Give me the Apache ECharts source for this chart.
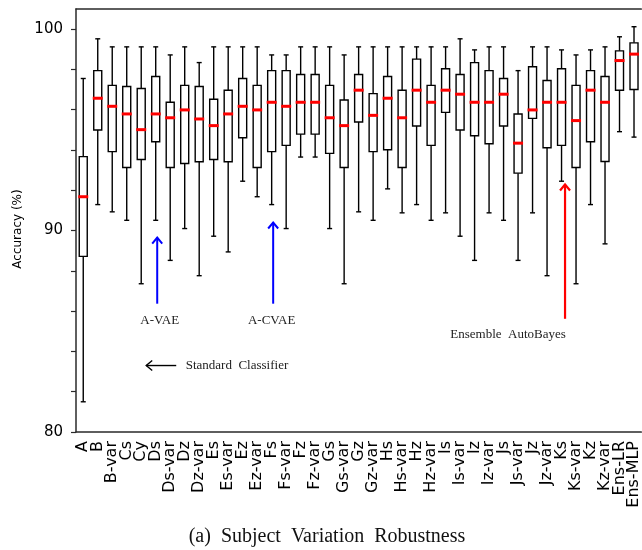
<!DOCTYPE html>
<html>
<head>
<meta charset="utf-8">
<script src="https://cdn.jsdelivr.net/npm/echarts@6/dist/echarts.min.js"></script>
<style>
  html, body { margin: 0; padding: 0; background: #fff; }
  #main { width: 642px; height: 550px; }
</style>
</head>
<body>
<div id="main"></div>
<script>
// categories along the x axis
const categories = ['A', 'B', 'B-var', 'Cs', 'Cy', 'Ds', 'Ds-var', 'Dz', 'Dz-var', 'Es', 'Es-var',
  'Ez', 'Ez-var', 'Fs', 'Fs-var', 'Fz', 'Fz-var', 'Gs', 'Gs-var', 'Gz', 'Gz-var', 'Hs', 'Hs-var',
  'Hz', 'Hz-var', 'Is', 'Is-var', 'Iz', 'Iz-var', 'Js', 'Js-var', 'Jz', 'Jz-var', 'Ks', 'Ks-var',
  'Kz', 'Kz-var', 'Ens-LR', 'Ens-MLP'];

// box statistics (accuracy %)
const whiskerMax = [97.55, 99.52, 99.12, 99.12, 99.12, 99.12, 98.72, 99.12, 98.34, 99.12, 99.12,
  99.12, 99.12, 98.72, 98.72, 99.12, 99.12, 99.12, 98.72, 99.12, 99.12, 99.12, 99.12,
  99.12, 99.12, 99.12, 99.52, 98.97, 99.12, 99.12, 97.94, 99.12, 99.12, 98.97, 98.72,
  98.97, 99.12, 99.62, 100.12];
const q3 = [93.67, 97.94, 97.21, 97.15, 97.05, 97.65, 96.37, 97.21, 97.15, 96.52, 96.97,
  97.55, 97.21, 97.94, 97.94, 97.75, 97.75, 97.21, 96.48, 97.75, 96.80, 97.65, 96.97,
  98.51, 97.21, 98.03, 97.75, 98.34, 97.94, 97.55, 95.79, 98.13, 97.45, 98.03, 97.21,
  97.94, 97.65, 98.92, 99.32];
const medians = [91.68, 96.57, 96.17, 95.79, 95.01, 95.79, 95.60, 95.99, 95.54, 95.21, 95.79,
  96.17, 95.99, 96.37, 96.17, 96.37, 96.37, 95.60, 95.21, 96.97, 95.72, 96.57, 95.60,
  96.97, 96.37, 96.97, 96.77, 96.37, 96.37, 96.77, 94.34, 95.99, 96.37, 96.37, 95.46,
  96.97, 96.37, 98.44, 98.76];
const q1 = [88.72, 94.99, 93.92, 93.13, 93.53, 94.41, 93.13, 93.33, 93.42, 93.53, 93.42,
  94.61, 93.13, 93.92, 94.23, 94.79, 94.79, 93.83, 93.13, 95.39, 93.92, 94.01, 93.13,
  95.19, 94.23, 95.87, 94.99, 94.71, 94.31, 95.19, 92.85, 95.57, 94.11, 94.23, 93.13,
  94.41, 93.43, 96.97, 97.00];
const whiskerMin = [81.50, 91.29, 90.93, 90.51, 87.36, 90.51, 88.52, 90.10, 87.76, 89.72, 88.94,
  92.45, 91.68, 91.29, 90.10, 93.65, 93.65, 90.10, 87.36, 90.93, 90.51, 92.07, 90.88,
  91.29, 90.51, 90.88, 89.72, 88.52, 90.88, 90.51, 88.52, 90.88, 87.76, 92.45, 87.36,
  91.29, 89.34, 94.91, 94.64];

// y axis ticks / labels
const yTicks = [80, 82, 84, 86, 88, 90, 92, 94, 96, 98, 100];
const yLabels = [80, 90, 100];

const chart = echarts.init(document.getElementById('main'));

const boxData = categories.map(function (c, i) {
  return [i, whiskerMax[i], q3[i], medians[i], q1[i], whiskerMin[i]];
});

function renderBox(params, api) {
  const i = api.value(0);
  const pMax = api.coord([i, api.value(1)]);
  const pQ3 = api.coord([i, api.value(2)]);
  const pMed = api.coord([i, api.value(3)]);
  const pQ1 = api.coord([i, api.value(4)]);
  const pMin = api.coord([i, api.value(5)]);
  const x = pMax[0];
  const lineStyle = { stroke: '#000', lineWidth: 1.4 };
  return {
    type: 'group',
    children: [
      { type: 'line', shape: { x1: x, y1: pMax[1], x2: x, y2: pQ3[1] }, style: lineStyle },
      { type: 'line', shape: { x1: x - 2.5, y1: pMax[1], x2: x + 2.5, y2: pMax[1] }, style: lineStyle },
      { type: 'line', shape: { x1: x, y1: pQ1[1], x2: x, y2: pMin[1] }, style: lineStyle },
      { type: 'line', shape: { x1: x - 2.5, y1: pMin[1], x2: x + 2.5, y2: pMin[1] }, style: lineStyle },
      { type: 'rect', shape: { x: x - 4, y: pQ3[1], width: 8, height: pQ1[1] - pQ3[1] },
        style: { fill: '#fff', stroke: '#000', lineWidth: 1.4 } },
      { type: 'line', shape: { x1: x - 5, y1: pMed[1], x2: x + 5, y2: pMed[1] },
        style: { stroke: '#ff0000', lineWidth: 3 } }
    ]
  };
}

const axisColor = '#2a2a2a';

chart.setOption({
  animation: false,
  grid: { left: 76, right: 0, top: 9, bottom: 118 },
  xAxis: [{
    type: 'category',
    data: categories,
    axisLine: { lineStyle: { color: axisColor, width: 1.5 } },
    axisTick: { alignWithLabel: true, length: 4, lineStyle: { color: axisColor, width: 1.2 } },
    axisLabel: {
      interval: 0, rotate: 90, margin: 9, color: '#000',
      fontFamily: 'DejaVu Sans', fontSize: 16
    }
  }, {
    type: 'category',
    data: categories,
    position: 'top',
    axisLine: { lineStyle: { color: axisColor, width: 1.5 } },
    axisTick: { show: false },
    axisLabel: { show: false }
  }],
  yAxis: {
    type: 'value',
    min: 80,
    max: 101,
    interval: 10,
    splitLine: { show: false },
    axisLine: { show: true, lineStyle: { color: axisColor, width: 1.5 } },
    axisTick: { show: true, length: 5, customValues: yTicks, lineStyle: { color: axisColor, width: 1.2 } },
    axisLabel: {
      customValues: yLabels, margin: 13, color: '#000',
      fontFamily: 'DejaVu Sans', fontSize: 15
    }
  },
  series: [{
    type: 'custom',
    renderItem: renderBox,
    encode: { x: 0, y: [1, 2, 3, 4, 5] },
    data: boxData,
    clip: false
  }]
});

// annotations anchored to the axes
function px(cat, val) {
  return chart.convertToPixel({ gridIndex: 0 }, [categories.indexOf(cat), val]);
}
const serif = 'Liberation Serif';
const aVae = px('Ds', 89.65), aVaeBase = px('Ds', 86.37), aVaeTxt = px('Ds', 85.55);
const aCvae = px('Fs', 90.4), aCvaeBase = px('Fs', 86.37), aCvaeTxt = px('Fs', 85.55);
const stdL = px('Cy', 83.3), stdTxt = px('Ds', 83.3);
const ens = px('Ks', 92.29), ensBase = px('Ks', 85.62), ensTxt = px('Js-var', 84.83);

function upArrow(tip, base, color, w) {
  const x = tip[0] + 1.5;
  return [
    { type: 'line', shape: { x1: x, y1: base[1], x2: x, y2: tip[1] }, style: { stroke: color, lineWidth: w } },
    { type: 'polyline', shape: { points: [[x - 5, tip[1] + 6], [x, tip[1]], [x + 5, tip[1] + 6]] },
      style: { stroke: color, lineWidth: w, fill: null } }
  ];
}

const gfx = []
  .concat(upArrow(aVae, aVaeBase, '#0000ff', 2))
  .concat(upArrow(aCvae, aCvaeBase, '#0000ff', 2))
  .concat(upArrow([ens[0] + 2, ens[1]], [ens[0] + 2, ensBase[1]], '#ff0000', 2.2))
  .concat([
    { type: 'text', x: aVaeTxt[0] + 4, y: aVaeTxt[1], style: { text: 'A-VAE', font: '13px ' + serif, fill: '#222', align: 'center', verticalAlign: 'middle' } },
    { type: 'text', x: aCvaeTxt[0], y: aCvaeTxt[1], style: { text: 'A-CVAE', font: '13px ' + serif, fill: '#222', align: 'center', verticalAlign: 'middle' } },
    { type: 'text', x: ensTxt[0] - 10, y: ensTxt[1], style: { text: 'Ensemble  AutoBayes', font: '13px ' + serif, fill: '#222', align: 'center', verticalAlign: 'middle' } },
    { type: 'line', shape: { x1: stdL[0] + 5, y1: stdL[1], x2: stdL[0] + 35, y2: stdL[1] }, style: { stroke: '#000', lineWidth: 1.4 } },
    { type: 'polyline', shape: { points: [[stdL[0] + 11, stdL[1] - 5], [stdL[0] + 5, stdL[1]], [stdL[0] + 11, stdL[1] + 5]] }, style: { stroke: '#000', lineWidth: 1.4, fill: null } },
    { type: 'text', x: stdTxt[0] + 30, y: stdTxt[1], style: { text: 'Standard  Classifier', font: '13px ' + serif, fill: '#222', align: 'left', verticalAlign: 'middle' } },
    { type: 'text', x: 18, y: 229, rotation: Math.PI / 2, style: { text: 'Accuracy (%)', font: '12px DejaVu Sans', fill: '#000', align: 'center', verticalAlign: 'middle' } },
    { type: 'text', x: 327, y: 537, style: { text: '(a)  Subject  Variation  Robustness', font: '20px ' + serif, fill: '#111', align: 'center', verticalAlign: 'middle' } }
  ]);

chart.setOption({ graphic: gfx });
</script>
</body>
</html>
